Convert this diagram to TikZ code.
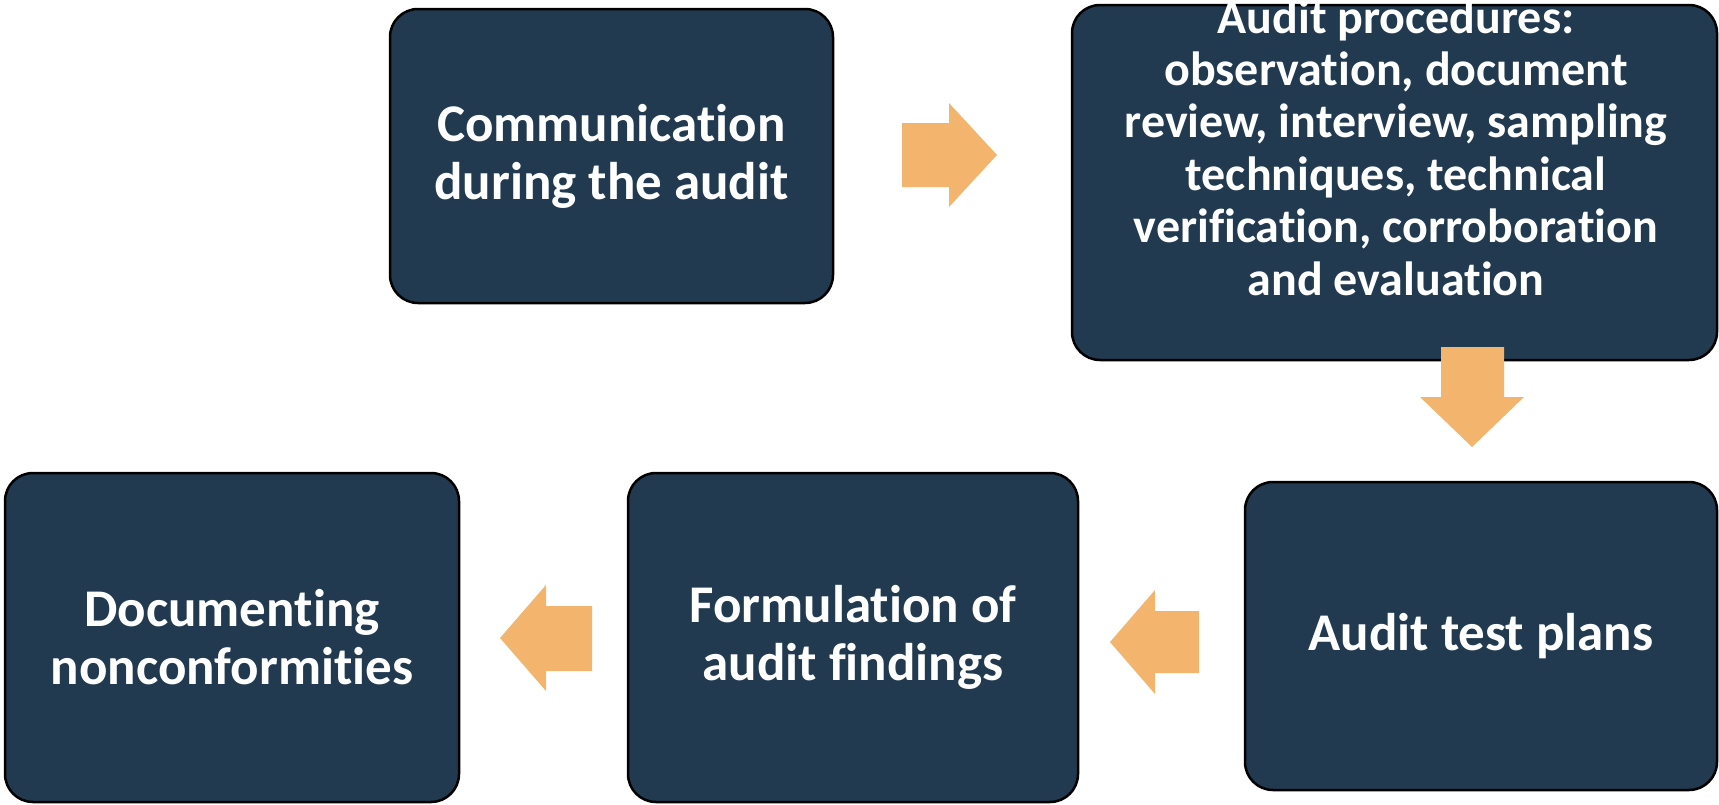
\documentclass[tikz,border=0pt]{standalone}
\usepackage{fontspec}
\setmainfont{Carlito}[Ligatures={NoCommon}]
\definecolor{boxfill}{HTML}{213A50}
\definecolor{arrowc}{HTML}{F3B56D}
\tikzset{
  box/.style={draw=black, line width=2.5pt, fill=boxfill, rounded corners=28pt, inner sep=0pt},
  boxtext/.style={text=white, align=center, inner sep=0pt, font=\fontsize{53}{58}\selectfont\bfseries},
  smalltext/.style={text=white, align=center, inner sep=0pt, font=\fontsize{48}{52.4}\selectfont\bfseries},
  blockarrow/.style={fill=arrowc, draw=none}
}
\begin{document}
\begin{tikzpicture}[x=1pt, y=-1pt]
\useasboundingbox (0,0) rectangle (1719,804);
% boxes
\node[box, minimum width=443pt, minimum height=294pt] (comm) at (611.5,156) {};
\node[boxtext] (commtext) at (comm.center) {Communication\\during the audit};
\node[box, minimum width=645pt, minimum height=355pt] (proc) at (1394.5,182.5) {};
\node[smalltext] (proctext) at (1396,147.5) {Audit procedures:\\observation, document\\review, interview, sampling\\techniques, technical\\verification, corroboration\\and evaluation};
\node[box, minimum width=472pt, minimum height=308pt] (plans) at (1481,636) {};
\node[boxtext] (planstext) at (plans.center) {Audit test plans};
\node[box, minimum width=450pt, minimum height=329pt] (form) at (853,637.5) {};
\node[boxtext] (formtext) at (form.center) {Formulation of\\audit findings};
\node[box, minimum width=454pt, minimum height=329pt] (doc) at (232,637.5) {};
\node[boxtext] (doctext) at (doc.center) {Documenting\\nonconformities};
% block arrows
\fill[blockarrow] (902,123) -- (949,123) -- (949,103) -- (997,155) -- (949,207) -- (949,187) -- (902,187) -- cycle;
\fill[blockarrow] (1441,347) -- (1504,347) -- (1504,397) -- (1524,397) -- (1472,447) -- (1420,397) -- (1441,397) -- cycle;
\fill[blockarrow] (1199,611) -- (1155,611) -- (1155,590) -- (1110,642) -- (1155,694) -- (1155,673) -- (1199,673) -- cycle;
\fill[blockarrow] (592,606) -- (546,606) -- (546,585) -- (500,638) -- (546,691) -- (546,671) -- (592,671) -- cycle;
\end{tikzpicture}
\end{document}
